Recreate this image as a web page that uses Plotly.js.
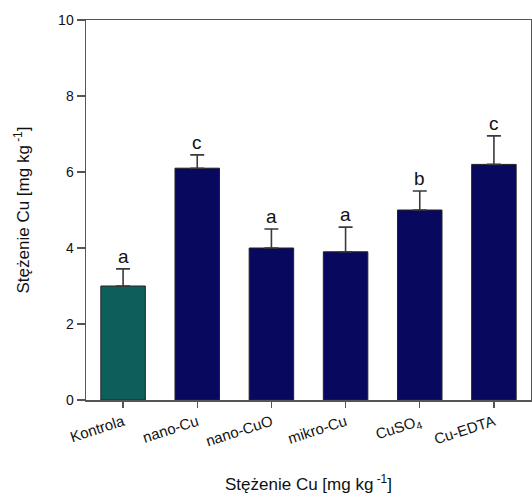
<!DOCTYPE html>
<html><head><meta charset="utf-8">
<script src="https://cdn.plot.ly/plotly-3.0.1.min.js"></script>
<style>html,body{margin:0;padding:0;background:#fff}</style>
</head><body><div id="chart" style="width:532px;height:494px"></div>
<script>
const categories = ["Kontrola","nano-Cu","nano-CuO","mikro-Cu","CuSO<sub>4</sub>","Cu-EDTA"];
const values = [3.0, 6.1, 4.0, 3.9, 5.0, 6.2];
const errors = [0.45, 0.35, 0.5, 0.65, 0.5, 0.75];
const letters = ["a","c","a","a","b","c"];
const colors = ["#0d5f5b","#08085f","#08085f","#08085f","#08085f","#08085f"];

const trace = {
  type: "bar", x: categories, y: values, width: 0.6,
  marker: {color: colors, line: {color: "#222", width: 1}},
  error_y: {type: "data", symmetric: false, array: errors, arrayminus: errors.map(() => 0),
            color: "#3a3a3a", thickness: 1.6, width: 7},
  hoverinfo: "none"
};
const annotations = categories.map((c, i) => ({
  x: c, y: values[i] + errors[i], text: letters[i], showarrow: false,
  yanchor: "bottom", yshift: 0, font: {family: "Liberation Sans, Arial", size: 19, color: "#111"}
}));
const layout = {
  width: 532, height: 494,
  margin: {l: 86, r: 1, t: 20, b: 94},
  paper_bgcolor: "#fff", plot_bgcolor: "#fff",
  font: {family: "Liberation Sans, Arial", color: "#111"},
  showlegend: false,
  bargap: 0.4,
  xaxis: {
    range: [-0.5, 5.5], showline: true, linecolor: "#555", linewidth: 1.5, mirror: true,
    ticks: "outside", ticklen: 6, tickcolor: "#555", tickwidth: 1.3, tickangle: -18,
    tickfont: {size: 15}, showgrid: false, zeroline: false,
    title: {text: "Stężenie Cu [mg kg<sup> -1</sup>]", font: {size: 17}, standoff: 32}
  },
  yaxis: {
    range: [0, 10], dtick: 2, showline: true, linecolor: "#555", linewidth: 1.5, mirror: true,
    ticks: "outside", ticklen: 8, tickcolor: "#555", tickwidth: 1.3,
    tickfont: {size: 14}, showgrid: false, zeroline: false,
    title: {text: "Stężenie Cu [mg kg<sup> -1</sup>]", font: {size: 17}, standoff: 24}
  },
  annotations: annotations
};
Plotly.newPlot("chart", [trace], layout, {displayModeBar: false, staticPlot: true});
</script></body></html>
